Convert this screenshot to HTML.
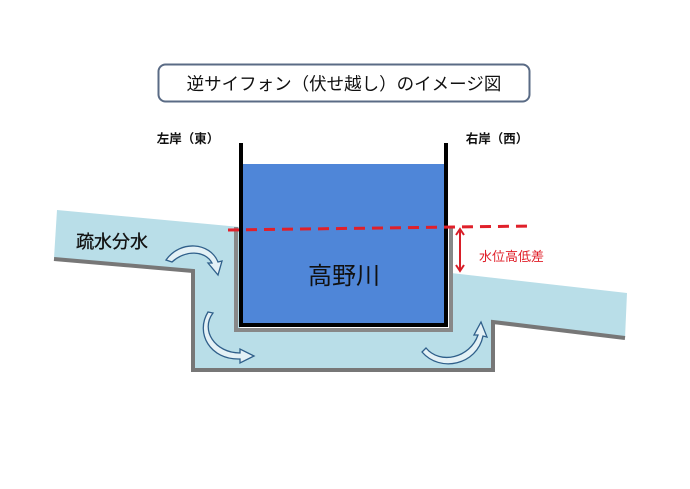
<!DOCTYPE html>
<html><head><meta charset="utf-8"><style>
html,body{margin:0;padding:0;background:#fff;}
svg{display:block;font-family:"Liberation Sans","Noto Sans CJK JP",sans-serif;}
</style></head><body>
<svg width="690" height="489" viewBox="0 0 690 489" xmlns="http://www.w3.org/2000/svg">
<rect x="158.5" y="64.5" width="371" height="37" rx="7" fill="#fff" stroke="#5a6b85" stroke-width="2"/>
<text x="344" y="90" font-size="17.5" text-anchor="middle" fill="#111">逆サイフォン（伏せ越し）のイメージ図</text>
<text x="188" y="143" font-size="12.5" font-weight="bold" text-anchor="middle" fill="#111">左岸（東）</text>
<text x="497" y="143" font-size="12.5" font-weight="bold" text-anchor="middle" fill="#111">右岸（西）</text>
<polygon points="57,210 240,227 240,330 451,330 451,273 627,293 625,338 493,322 493,370 193,370 193,270 54,258" fill="#b9dee8"/>
<polyline points="54,259 193,271 193,370 493,370 493,322 625,338" fill="none" stroke="#777" stroke-width="4"/>
<polyline points="236,227 236,330 451,330 451,227" fill="none" stroke="#888" stroke-width="4"/>
<rect x="242" y="164" width="204" height="160" fill="#4f86d8"/>
<polyline points="241,143 241,325 446,325 446,143" fill="none" stroke="#000" stroke-width="4"/>
<text x="344" y="284" font-size="24" text-anchor="middle" fill="#111">高野川</text>
<text x="76" y="248" font-size="18" fill="#111" stroke="#111" stroke-width="0.3">疏水分水</text>
<line x1="228" y1="230" x2="532" y2="226" stroke="#e0202a" stroke-width="3" stroke-dasharray="11,7"/>
<line x1="460" y1="230" x2="460" y2="270" stroke="#d81e28" stroke-width="2"/>
<polyline points="456,235 460,229 464,235" fill="none" stroke="#d81e28" stroke-width="2"/>
<polyline points="456,265 460,271 464,265" fill="none" stroke="#d81e28" stroke-width="2"/>
<text x="479" y="261" font-size="13" fill="#e0202a">水位高低差</text>
<g fill="#e4f1f6" stroke="#2f5f8a" stroke-width="1.3">
<path d="M166,260 C180,240 210,242 218,262 L222,261 L218,275 L208,263 L212,263 C205,250 185,250 172,262 Z"/>
<path d="M213,313 C200,330 215,353 240,353 L240,349 L254,356 L240,363 L240,359 C210,360 195,333 208,312 Z"/>
<path d="M426,348 C440,365 470,358 478,335 L474,335 L481,322 L487,337 L483,336 C477,365 440,373 422,352 Z"/>
</g>
</svg>
</body></html>
